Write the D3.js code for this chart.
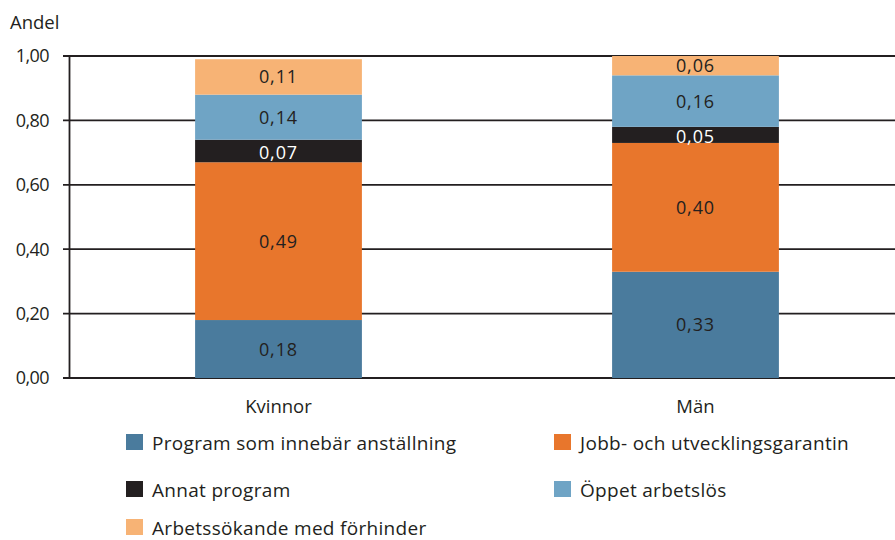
<!DOCTYPE html>
<html>
<head>
<meta charset="utf-8">
<script src="https://cdn.jsdelivr.net/npm/d3@7"></script>
<style>
body { margin: 0; background: white; }
text { font-family: "Open Sans", "Lato", sans-serif; fill: #231f20; }
</style>
</head>
<body>
<div id="chart"></div>
<script>
categories = ["Kvinnor", "Män"];
seriesNames = ["Program som innebär anställning", "Jobb- och utvecklingsgarantin", "Annat program", "Öppet arbetslös", "Arbetssökande med förhinder"];
kvinnor = [0.18, 0.49, 0.07, 0.14, 0.11];
man = [0.33, 0.40, 0.05, 0.16, 0.06];
yTicks = [0, 0.2, 0.4, 0.6, 0.8, 1.0];
colors = ["#4a7b9d", "#e8762c", "#231f20", "#6fa4c5", "#f7b375"];

width = 895;
height = 540;

svg = d3.select("#chart")
    .append("svg")
    .attr("width", width)
    .attr("height", height);

x = d3.scaleBand()
    .domain(categories)
    .range([70, 904])
    .paddingInner(0.6)
    .paddingOuter(0.3);

y = d3.scaleLinear()
    .domain([0, 1])
    .range([378, 56]);

fmt = function(v) { return v.toFixed(2).replace(".", ","); };

// gridlines
grid = svg.append("g");
grid.selectAll("line")
    .data(yTicks)
    .enter().append("line")
    .attr("x1", 63)
    .attr("x2", width)
    .attr("y1", function(d) { return y(d); })
    .attr("y2", function(d) { return y(d); })
    .style("stroke", "#231f20")
    .style("stroke-width", 1.8);

svg.append("line")
    .attr("x1", 69.5).attr("x2", 69.5)
    .attr("y1", y(1)).attr("y2", y(0))
    .style("stroke", "#231f20")
    .style("stroke-width", 1.8);

svg.selectAll(".ytick")
    .data(yTicks)
    .enter().append("text")
    .attr("class", "ytick")
    .attr("x", 49)
    .attr("y", function(d) { return y(d); })
    .attr("dy", "0.36em")
    .attr("text-anchor", "end")
    .style("font-size", "18px")
    .style("letter-spacing", "-0.6px")
    .text(fmt);

svg.append("text")
    .attr("x", 10)
    .attr("y", 29)
    .style("font-size", "18.5px")
    .text("Andel");

// stacks
table = categories.map(function(c, i) {
    var vals = i == 0 ? kvinnor : man;
    var row = { cat: c };
    seriesNames.forEach(function(s, j) { row[s] = vals[j]; });
    return row;
});
stacked = d3.stack().keys(seriesNames)(table);

layers = svg.selectAll(".layer")
    .data(stacked)
    .enter().append("g")
    .attr("class", "layer")
    .style("fill", function(d, i) { return colors[i]; });

layers.selectAll("rect")
    .data(function(d) { return d; })
    .enter().append("rect")
    .attr("x", function(d) { return x(d.data.cat); })
    .attr("width", x.bandwidth())
    .attr("y", function(d) { return y(d[1]); })
    .attr("height", function(d) { return y(d[0]) - y(d[1]); });

layers.each(function(layer, i) {
    d3.select(this).selectAll(".val")
        .data(layer)
        .enter().append("text")
        .attr("class", "val")
        .attr("x", function(d) { return x(d.data.cat) + x.bandwidth() / 2; })
        .attr("y", function(d) { return (y(d[0]) + y(d[1])) / 2; })
        .attr("dy", i == 2 ? "0.45em" : "0.36em")
        .attr("text-anchor", "middle")
        .style("font-size", "18px")
        .style("letter-spacing", "0.9px")
        .style("fill", i == 2 ? "white" : "#231f20")
        .text(function(d) { return fmt(d[1] - d[0]); });
});

svg.selectAll(".xtick")
    .data(categories)
    .enter().append("text")
    .attr("class", "xtick")
    .attr("x", function(d) { return x(d) + x.bandwidth() / 2; })
    .attr("y", 413)
    .attr("text-anchor", "middle")
    .style("font-size", "18.5px")
    .text(function(d) { return d; });

// legend
legendPos = [[126, 434], [554, 434], [126, 481], [554, 481], [126, 519]];
legend = svg.selectAll(".legend")
    .data(seriesNames)
    .enter().append("g")
    .attr("class", "legend")
    .attr("transform", function(d, i) { return "translate(" + legendPos[i][0] + "," + legendPos[i][1] + ")"; });

legend.append("rect")
    .attr("width", 17)
    .attr("height", 16)
    .style("fill", function(d, i) { return colors[i]; });

legend.append("text")
    .attr("x", 26)
    .attr("y", 16)
    .style("font-size", "19px")
    .style("letter-spacing", "0.3px")
    .text(function(d) { return d; });
</script>
</body>
</html>
